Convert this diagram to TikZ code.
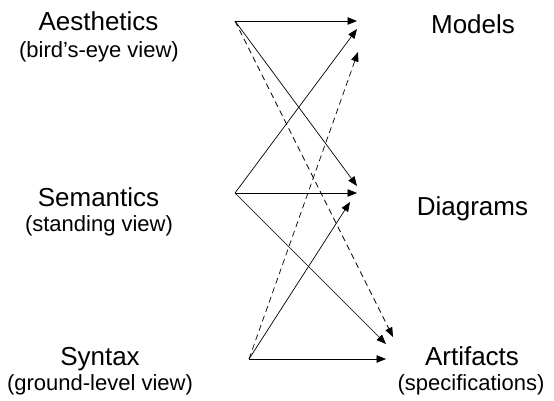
\documentclass[tikz,border=0pt]{standalone}
\usepackage{fontspec}
\setmainfont{Liberation Sans}
\usetikzlibrary{arrows.meta}
\begin{document}
\begin{tikzpicture}[x=1pt,y=-1pt,
  conn/.style={line width=0.7pt,-{Triangle[length=9.5pt,width=7.5pt]}},
  dconn/.style={conn,dash pattern=on 6pt off 4pt},
  title/.style={font=\fontsize{26}{30}\selectfont,inner sep=0pt,anchor=base},
  sub/.style={font=\fontsize{22}{26}\selectfont,inner sep=0pt,anchor=base}]
\useasboundingbox (0,0) rectangle (554,400);
% labels
\node[title] (aes) at (98.5,30) {Aesthetics};
\node[sub] (aesv) at (99,57.3) {(bird’s-eye view)};
\node[title] (sem) at (98.5,206.7) {Semantics};
\node[sub] (semv) at (99,231.7) {(standing view)};
\node[title] (syn) at (100,365.7) {Syntax};
\node[sub] (synv) at (100,390) {(ground-level view)};
\node[title] (mod) at (473,33.3) {Models};
\node[title] (dia) at (472.5,215) {Diagrams};
\node[title] (art) at (472,365.7) {Artifacts};
\node[sub] (artv) at (471,390) {(specifications)};
% source and target points
\coordinate (A) at (235,21);
\coordinate (S) at (235,193);
\coordinate (Y) at (249,359);
\coordinate (M1) at (357,21);
\coordinate (M2) at (357,29);
\coordinate (M3) at (358,52);
\coordinate (D1) at (357,186);
\coordinate (D2) at (357,193);
\coordinate (D3) at (350,202);
\coordinate (R1) at (393,337);
\coordinate (R2) at (386,344);
\coordinate (R3) at (386,359);
% connectors
\draw[conn] (A) -- (M1);
\draw[conn] (A) -- (D1);
\draw[dconn] (A) -- (R1);
\draw[conn] (S) -- (M2);
\draw[conn] (S) -- (D2);
\draw[conn] (S) -- (R2);
\draw[conn] (Y) -- (R3);
\draw[conn] (Y) -- (D3);
\draw[dconn] (Y) -- (M3);
\end{tikzpicture}
\end{document}
